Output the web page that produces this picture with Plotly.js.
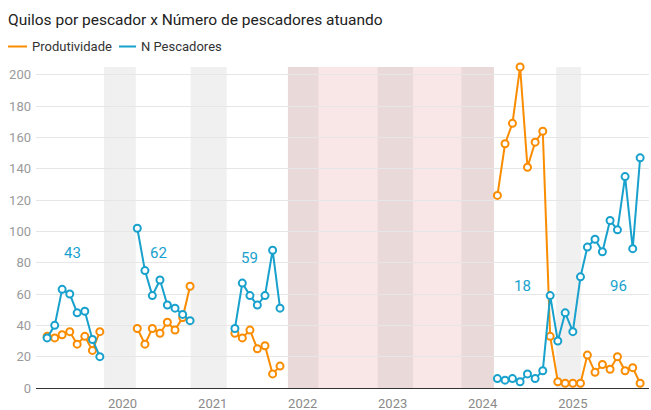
<!DOCTYPE html>
<html>
<head>
<meta charset="utf-8">
<script src="https://cdn.plot.ly/plotly-3.0.1.min.js"></script>
<style>
html, body { margin: 0; padding: 0; background: #ffffff; }
#chart { width: 651px; height: 410px; }
</style>
</head>
<body>
<div id="chart"></div>
<script>
// ---------- data ----------
const datas2019 = ['2019-03-01','2019-04-01','2019-05-01','2019-06-01','2019-07-01','2019-08-01','2019-09-01','2019-10-01'];
const produtividade2019 = [33, 32, 34, 36, 28, 33, 24, 36];
const pescadores2019 = [32, 40, 63, 60, 48, 49, 31, 20];

const datas2020 = ['2020-03-01','2020-04-01','2020-05-01','2020-06-01','2020-07-01','2020-08-01','2020-09-01','2020-10-01'];
const produtividade2020 = [38, 28, 38, 35, 42, 37, 45, 65];
const pescadores2020 = [102, 75, 59, 69, 53, 51, 47, 43];

const datas2021 = ['2021-04-01','2021-05-01','2021-06-01','2021-07-01','2021-08-01','2021-09-01','2021-10-01'];
const produtividade2021 = [35, 32, 37, 25, 27, 9, 14];
const pescadores2021 = [38, 67, 59, 53, 59, 88, 51];

const datas2024 = ['2024-03-01','2024-04-01','2024-05-01','2024-06-01','2024-07-01','2024-08-01','2024-09-01','2024-10-01','2024-11-01','2024-12-01'];
const produtividade2024 = [123, 156, 169, 205, 141, 157, 164, 33, 4, 3];
const pescadores2024 = [6, 5, 6, 4, 9, 6, 11, 59, 30, 48];

const datas2025 = ['2025-01-01','2025-02-01','2025-03-01','2025-04-01','2025-05-01','2025-06-01','2025-07-01','2025-08-01','2025-09-01','2025-10-01'];
const produtividade2025 = [3, 3, 21, 10, 15, 12, 20, 11, 13, 3];
const pescadores2025 = [36, 71, 90, 95, 87, 107, 101, 135, 89, 147];

const seriesNames = ['Produtividade', 'N Pescadores'];
const yearTicks = ['2020-01-01','2021-01-01','2022-01-01','2023-01-01','2024-01-01','2025-01-01'];
const yearLabels = ['2020','2021','2022','2023','2024','2025'];

// shaded periods (gray) and the highlighted gap period (pink)
const periodosCinza = [
  ['2019-10-18','2020-02-24'],
  ['2020-10-03','2021-02-27'],
  ['2021-11-02','2022-03-06'],
  ['2022-11-01','2023-03-25'],
  ['2023-10-07','2024-02-16'],
  ['2024-10-25','2025-02-03']
];
const periodoRosa = ['2021-11-02','2024-02-16'];

// ---------- build ----------
const COL_ORANGE = '#fa8c00';
const COL_BLUE = '#18a1cd';

// segments: seasons joined together; 2024 and 2025 are continuous
const segments = [
  {d: datas2019, p: produtividade2019, n: pescadores2019},
  {d: datas2020, p: produtividade2020, n: pescadores2020},
  {d: datas2021, p: produtividade2021, n: pescadores2021},
  {d: datas2024.concat(datas2025), p: produtividade2024.concat(produtividade2025), n: pescadores2024.concat(pescadores2025)}
];

function midDate(a, b) {
  const ta = new Date(a).getTime(), tb = new Date(b).getTime();
  return new Date((ta + tb) / 2).toISOString().slice(0, 10);
}

const xs = [], yp = [], yn = [];
segments.forEach((s, i) => {
  if (i > 0) {
    const prev = segments[i - 1];
    xs.push(midDate(prev.d[prev.d.length - 1], s.d[0]));
    yp.push(null); yn.push(null);
  }
  s.d.forEach((d, k) => { xs.push(d); yp.push(s.p[k]); yn.push(s.n[k]); });
});

function traceFor(name, y, color) {
  return {
    type: 'scatter', mode: 'lines+markers', name: name,
    x: xs, y: y, connectgaps: false, showlegend: false,
    line: {color: color, width: 2},
    marker: {symbol: 'circle', size: 7, color: '#ffffff', line: {color: color, width: 2}},
    cliponaxis: false, hoverinfo: 'skip'
  };
}

const traces = [
  traceFor(seriesNames[0], yp, COL_ORANGE),
  traceFor(seriesNames[1], yn, COL_BLUE)
];

// plot geometry helpers for legend placement (paper coords)
const W = 651, H = 410;
const M = {l: 36, r: 2, t: 67, b: 22};
const PW = W - M.l - M.r, PH = H - M.t - M.b;
const px2x = px => (px - M.l) / PW;
const py2y = py => (H - M.b - py) / PH;

const shapes = [];
shapes.push({type: 'rect', xref: 'x', yref: 'paper', x0: periodoRosa[0], x1: periodoRosa[1], y0: 0, y1: 1,
  fillcolor: 'rgb(204,60,60)', opacity: 0.12, line: {width: 0}, layer: 'below'});
periodosCinza.forEach(p => shapes.push({type: 'rect', xref: 'x', yref: 'paper', x0: p[0], x1: p[1], y0: 0, y1: 1,
  fillcolor: 'rgb(0,0,0)', opacity: 0.06, line: {width: 0}, layer: 'below'}));

// custom legend (line swatches)
const legendY = py2y(46.5);
shapes.push({type: 'line', xref: 'paper', yref: 'paper', x0: px2x(8), x1: px2x(27), y0: legendY, y1: legendY, line: {color: COL_ORANGE, width: 2}});
shapes.push({type: 'line', xref: 'paper', yref: 'paper', x0: px2x(119), x1: px2x(136), y0: legendY, y1: legendY, line: {color: COL_BLUE, width: 2}});

const annotations = [
  {xref: 'paper', yref: 'paper', x: px2x(29.5), y: legendY, xanchor: 'left', yanchor: 'middle', text: seriesNames[0], showarrow: false, font: {size: 13, color: '#333333'}},
  {xref: 'paper', yref: 'paper', x: px2x(138.5), y: legendY, xanchor: 'left', yanchor: 'middle', text: seriesNames[1], showarrow: false, font: {size: 13, color: '#333333'}}
];

// season averages of N Pescadores as value labels
const mean = a => Math.round(a.reduce((s, v) => s + v, 0) / a.length);
const labelSpecs = [
  {x: '2019-06-12', y: 86.5, v: mean(pescadores2019)},
  {x: '2020-05-28', y: 86.5, v: mean(pescadores2020)},
  {x: '2021-06-01', y: 83, v: mean(pescadores2021)},
  {x: '2024-06-10', y: 65, v: mean(pescadores2024)},
  {x: '2025-07-04', y: 65, v: mean(pescadores2025)}
];
labelSpecs.forEach(l => annotations.push({
  xref: 'x', yref: 'y', x: l.x, y: l.y, text: String(l.v), showarrow: false,
  xanchor: 'center', yanchor: 'middle', font: {size: 15, color: COL_BLUE}
}));

const layout = {
  width: W, height: H,
  margin: M,
  paper_bgcolor: '#ffffff', plot_bgcolor: 'rgba(0,0,0,0)',
  font: {family: 'Roboto, "Noto Sans", sans-serif', size: 13, color: '#333333'},
  title: {
    text: 'Quilos por pescador x Número de pescadores atuando',
    xref: 'container', yref: 'container',
    x: 8 / W, xanchor: 'left',
    y: 1 - 19.5 / H, yanchor: 'middle',
    font: {family: 'Roboto, sans-serif', size: 15.5, color: '#222222'}
  },
  showlegend: false,
  hovermode: false,
  xaxis: {
    type: 'date',
    range: ['2019-01-15', '2025-11-06'],
    tickmode: 'array', tickvals: yearTicks, ticktext: yearLabels,
    showgrid: false, zeroline: false, showline: false, ticks: '',
    tickfont: {size: 13, color: '#8a8a8a'},
    ticklabelstandoff: 6,
    fixedrange: true
  },
  yaxis: {
    range: [0, 205],
    tick0: 0, dtick: 20,
    showgrid: true, gridcolor: '#e6e6e6', gridwidth: 1,
    zeroline: true, zerolinecolor: '#333333', zerolinewidth: 1,
    showline: false, ticks: '',
    tickfont: {size: 13, color: '#9a9a9a'},
    ticklabelstandoff: 4,
    fixedrange: true
  },
  shapes: shapes,
  annotations: annotations
};

Plotly.newPlot('chart', traces, layout, {staticPlot: true, displayModeBar: false});
</script>
</body>
</html>
